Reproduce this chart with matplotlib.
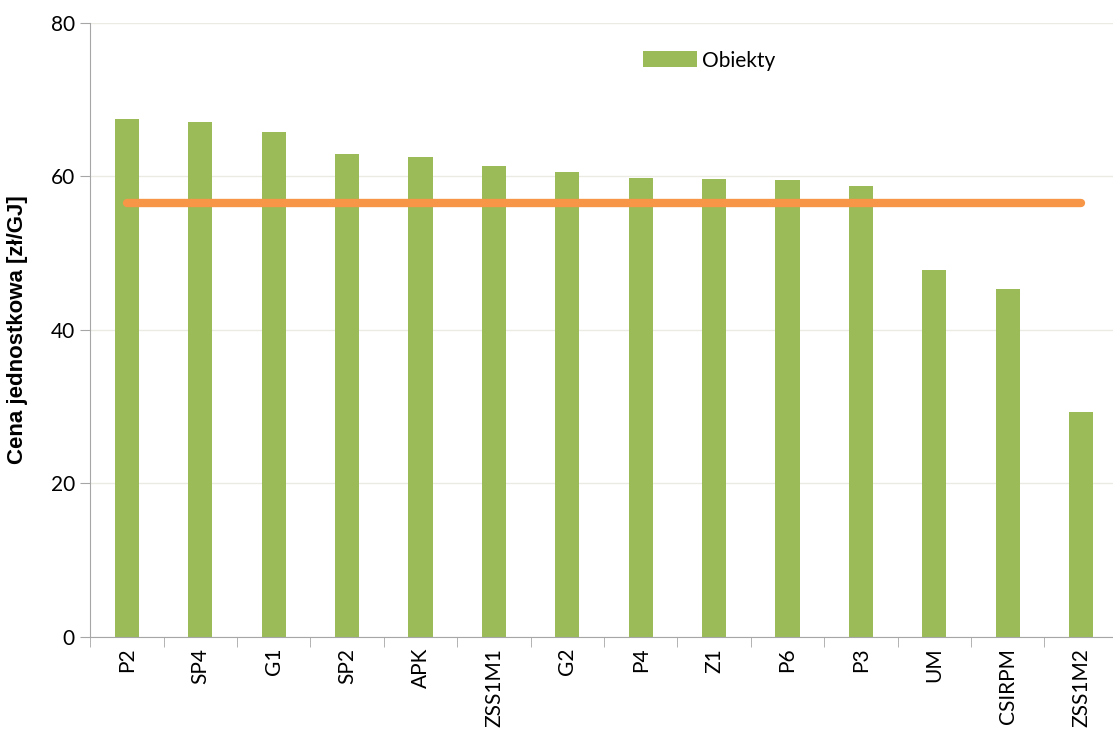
import matplotlib
matplotlib.use("Agg")
import matplotlib.pyplot as plt
import numpy as np

categories = ['P2', 'SP4', 'G1', 'SP2', 'APK', 'ZSS1M1', 'G2', 'P4', 'Z1',
              'P6', 'P3', 'UM', 'CSIRPM', 'ZSS1M2']
values = [67.4, 67.0, 65.8, 62.9, 62.5, 61.3, 60.5, 59.7, 59.6,
          59.5, 58.7, 47.8, 45.3, 29.3]
average = 56.5

plt.rcParams['font.family'] = ['Lato', 'DejaVu Sans']

fig = plt.figure(figsize=(11.13, 7.31), dpi=100)
ax = fig.add_axes([0.081, 0.129, 0.9234, 0.84])

x = np.arange(len(categories))
ax.bar(x, values, width=0.33, color='#9BBB59', label='Obiekty', zorder=2)
ax.plot([x[0], x[-1]], [average, average], color='#F79646', linewidth=6,
        solid_capstyle='round', zorder=3)

ax.set_xlim(-0.5, len(categories) - 0.5)
ax.set_ylim(0, 80)
ax.set_yticks([0, 20, 40, 60, 80])
ax.set_xticks(x)
ax.set_xticklabels(categories, rotation=90)
ax.set_xticks(np.arange(-0.5, len(categories)), minor=True)
ax.tick_params(axis='x', which='major', length=0, pad=8, labelsize=15)
ax.tick_params(axis='x', which='minor', length=7, color='#A6A6A6')
ax.tick_params(axis='y', length=7, color='#A6A6A6', labelsize=15, pad=4)

ax.grid(axis='y', color='#EBEBE3', linewidth=1, zorder=0)
for s in ['top', 'right']:
    ax.spines[s].set_visible(False)
ax.spines['left'].set_color('#A6A6A6')
ax.spines['bottom'].set_color('#A6A6A6')

ax.set_ylabel('Cena jednostkowa [zł/GJ]', fontsize=16, fontweight='bold',
              family=['Liberation Sans', 'DejaVu Sans'])
ax.yaxis.set_label_coords(-0.06, 0.5)

ax.legend(loc='upper left', bbox_to_anchor=(0.52, 0.985), frameon=False,
          fontsize=15, handlelength=2.6, handleheight=0.8, handletextpad=0.2)

fig.savefig('out.png', dpi=100)
